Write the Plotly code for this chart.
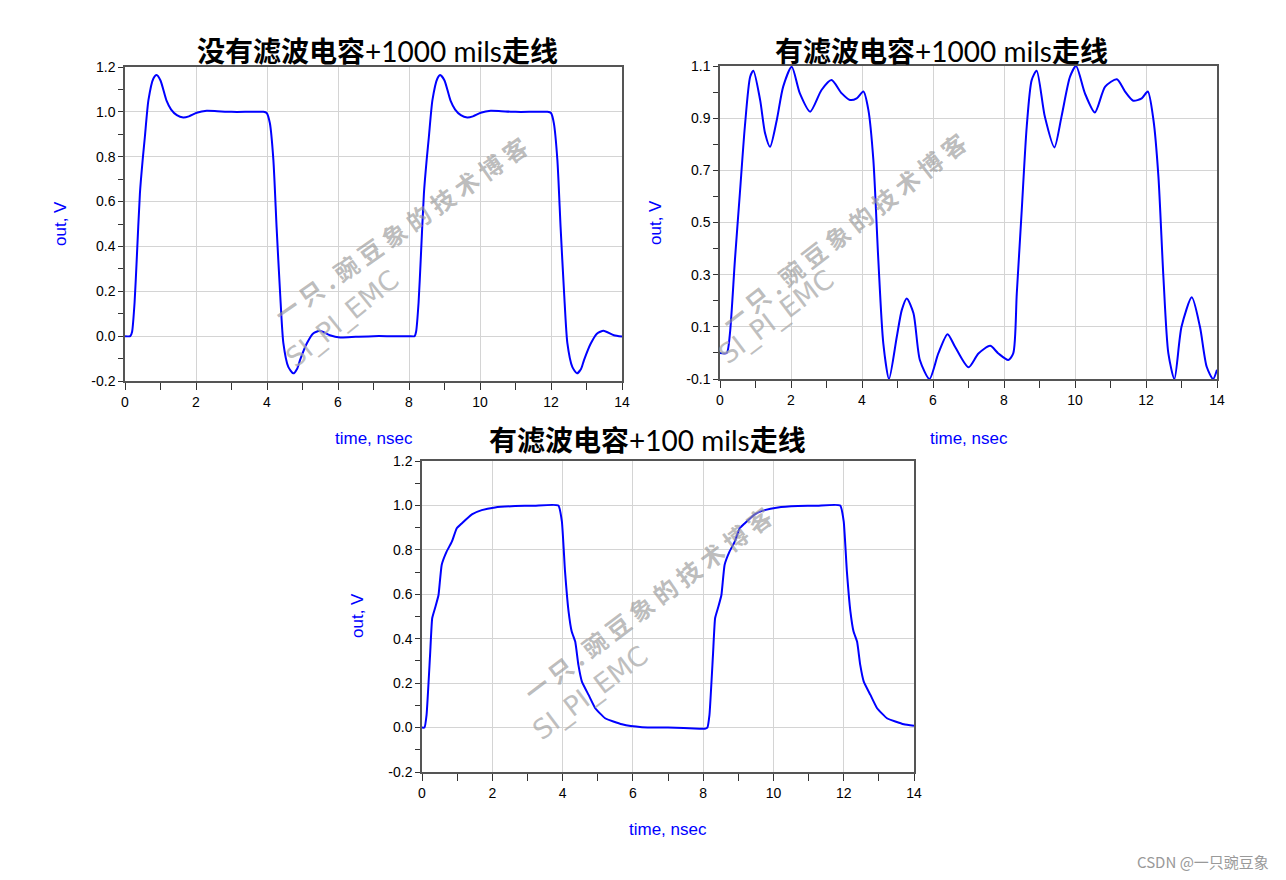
import plotly.graph_objects as go

W, H = 1286, 880
OFF = 8  # page body margin compensation

# ---------------- data ----------------
t1 = [0, 0.15, 0.2, 0.27, 0.33, 0.42, 0.5, 0.56, 0.66, 0.8, 0.89, 1.0, 1.17, 1.3, 1.46, 1.64, 1.8, 2.02, 2.3, 2.6,
      3.0, 3.5, 3.9, 3.99, 4.08, 4.18, 4.27, 4.37, 4.46, 4.6, 4.74, 4.85, 4.93, 5.12, 5.3, 5.49, 5.77, 6.06, 6.5, 7.0,
      7.5, 8.0,
      8.16, 8.2, 8.27, 8.33, 8.42, 8.5, 8.56, 8.66, 8.8, 8.88, 9.0, 9.17, 9.3, 9.46, 9.64, 9.8, 10.02, 10.3, 10.6,
      11.0, 11.5, 11.9, 12.0, 12.08, 12.18, 12.27, 12.37, 12.46, 12.6, 12.73, 12.85, 12.93, 13.12, 13.3, 13.48,
      13.77, 14.0]
v1 = [0, 0, 0.02, 0.15, 0.34, 0.636, 0.79, 0.889, 1.052, 1.149, 1.164, 1.14, 1.05, 1.01, 0.985, 0.975, 0.98, 0.996,
      1.005, 1.003, 1.0, 1.0, 1.0, 0.995, 0.95, 0.785, 0.487, 0.19, -0.03, -0.137, -0.166, -0.145, -0.107, -0.033,
      0.012, 0.024, 0.004, -0.006, -0.003, 0.0, 0.0, 0.0,
      0.0, 0.02, 0.15, 0.34, 0.636, 0.79, 0.889, 1.052, 1.149, 1.164, 1.14, 1.05, 1.01, 0.985, 0.975, 0.98, 0.996,
      1.005, 1.003, 1.0, 1.0, 1.0, 0.995, 0.95, 0.785, 0.487, 0.19, -0.03, -0.137, -0.166, -0.145, -0.107, -0.033,
      0.012, 0.024, 0.004, -0.002]

t2 = [0, 0.19, 0.28, 0.42, 0.56, 0.70, 0.85, 0.94, 1.13, 1.27, 1.41, 1.60, 1.78, 2.02, 2.25, 2.54, 2.86, 3.14, 3.43,
      3.66, 3.85, 4.04, 4.18, 4.32, 4.46, 4.60, 4.76, 4.98, 5.12, 5.26, 5.45, 5.63, 5.90, 6.15, 6.41, 6.62, 7.0, 7.28,
      7.61, 7.84, 8.12, 8.26, 8.36, 8.50, 8.64, 8.78, 8.92, 9.15, 9.42, 9.62, 9.86, 10.03, 10.28, 10.56, 10.85,
      11.18, 11.41, 11.64, 11.88, 12.05, 12.21, 12.35, 12.49, 12.63, 12.80, 13.0, 13.29, 13.52, 13.71, 13.89, 14.0]
v2 = [0.0, 0.0, 0.075, 0.356, 0.612, 0.867, 1.059, 1.082, 0.97, 0.842, 0.79, 0.893, 1.021, 1.097, 0.995, 0.925,
      1.008, 1.046, 0.995, 0.97, 0.976, 1.002, 0.931, 0.74, 0.356, 0.037, -0.1, 0.062, 0.164, 0.209, 0.152, -0.027,
      -0.1, -0.002, 0.072, 0.024, -0.055, -0.002, 0.027, -0.002, -0.027, -0.002, 0.228, 0.548, 0.867, 1.046, 1.082,
      0.906, 0.788, 0.906, 1.059, 1.1, 0.995, 0.922, 1.021, 1.049, 1.002, 0.967, 0.976, 1.002, 0.893, 0.676, 0.292,
      -0.002, -0.1, 0.1, 0.213, 0.1, -0.053, -0.1, -0.065]

t3 = [0, 0.07, 0.13, 0.23, 0.29, 0.37, 0.47, 0.56, 0.70, 0.85, 0.99, 1.13, 1.42, 1.70, 2.08, 2.65, 3.2, 3.88, 3.98,
      4.07, 4.17, 4.26, 4.36, 4.45, 4.55, 4.74, 4.93, 5.21, 5.69, 6.26, 7.0, 7.9, 8.05,
      8.12, 8.18, 8.28, 8.34, 8.42, 8.52, 8.61, 8.75, 8.9, 9.04, 9.18, 9.47, 9.75, 10.13, 10.7, 11.25, 11.9, 12.0,
      12.09, 12.19, 12.28, 12.38, 12.47, 12.57, 12.76, 12.95, 13.23, 13.71, 14.0]
v3 = [0, 0, 0.057, 0.327, 0.492, 0.537, 0.597, 0.732, 0.792, 0.837, 0.897, 0.919, 0.96, 0.979, 0.991, 0.997, 0.999,
      1.0, 0.928, 0.703, 0.523, 0.432, 0.387, 0.282, 0.207, 0.147, 0.087, 0.042, 0.015, 0.002, 0.0, -0.005, -0.005,
      0.0, 0.057, 0.327, 0.492, 0.537, 0.597, 0.732, 0.792, 0.837, 0.897, 0.919, 0.96, 0.979, 0.991, 0.997, 0.999,
      1.0, 0.928, 0.703, 0.523, 0.432, 0.387, 0.282, 0.207, 0.147, 0.087, 0.042, 0.015, 0.008]

titles = [("没有滤波电容", "+1000 mils", "走线"),
          ("有滤波电容", "+1000 mils", "走线"),
          ("有滤波电容", "+100 mils", "走线")]
x_label = "time, nsec"
y_label = "out, V"

x_ticks = [0, 2, 4, 6, 8, 10, 12, 14]
x_ticktext = ["0", "2", "4", "6", "8", "10", "12", "14"]
x_minor = [1, 3, 5, 7, 9, 11, 13]

y_ticks_a = [-0.2, 0.0, 0.2, 0.4, 0.6, 0.8, 1.0, 1.2]
y_text_a = ["-0.2", "0.0", "0.2", "0.4", "0.6", "0.8", "1.0", "1.2"]
y_minor_a = [-0.1, 0.1, 0.3, 0.5, 0.7, 0.9, 1.1]

y_ticks_b = [-0.1, 0.1, 0.3, 0.5, 0.7, 0.9, 1.1]
y_text_b = ["-0.1", "0.1", "0.3", "0.5", "0.7", "0.9", "1.1"]
y_minor_b = [0.0, 0.2, 0.4, 0.6, 0.8, 1.0]

watermark_cn = "一 只 . 豌 豆 象 的 技 术 博 客"
watermark_en = "SI_PI_EMC"
credit = "CSDN @一只豌豆象"

# ---------------- figure ----------------
def px(x):
    return (x - OFF) / W

def py(y):
    return 1 - (y - OFF) / H

fig = go.Figure()
blue = "#0000ff"
line_style = dict(color=blue, width=2)

fig.add_trace(go.Scatter(x=t1, y=v1, mode="lines", line=dict(**line_style, shape="spline", smoothing=0.6),
                         xaxis="x", yaxis="y", showlegend=False))
fig.add_trace(go.Scatter(x=t2, y=v2, mode="lines", line=dict(**line_style, shape="spline", smoothing=0.7),
                         xaxis="x2", yaxis="y2", showlegend=False))
fig.add_trace(go.Scatter(x=t3, y=v3, mode="lines", line=dict(**line_style, shape="spline", smoothing=0.4),
                         xaxis="x3", yaxis="y3", showlegend=False))

tickfont = dict(family="Liberation Sans, Arial", size=14, color="black")

def xax(domain, anchor):
    return dict(domain=domain, anchor=anchor, range=[0, 14], tickmode="array", tickvals=x_ticks,
                ticktext=x_ticktext, ticks="outside", ticklen=7, tickwidth=1, tickcolor="#333",
                showline=True, linecolor="#555", linewidth=1.5, mirror=True,
                showgrid=True, gridcolor="#d4d4d4", gridwidth=1, zeroline=False,
                tickfont=tickfont, fixedrange=True,
                minor=dict(tickvals=x_minor, ticks="outside", ticklen=7, tickcolor="#333", showgrid=False))

def yax(domain, anchor, rng, tv, tt, mv):
    return dict(domain=domain, anchor=anchor, range=rng, tickmode="array", tickvals=tv, ticktext=tt,
                ticks="outside", ticklen=5, tickwidth=1, tickcolor="#333",
                showline=True, linecolor="#555", linewidth=1.5, mirror=True,
                showgrid=True, gridcolor="#d4d4d4", gridwidth=1, zeroline=False,
                tickfont=tickfont, fixedrange=True,
                minor=dict(tickvals=mv, ticks="outside", ticklen=5, tickcolor="#333", showgrid=False))

fig.update_layout(
    width=W, height=H,
    margin=dict(l=0, r=0, t=0, b=0, pad=0, autoexpand=False),
    paper_bgcolor="white", plot_bgcolor="white",
    xaxis=xax([px(125), px(622)], "y"),
    yaxis=yax([py(381), py(67)], "x", [-0.2, 1.2], y_ticks_a, y_text_a, y_minor_a),
    xaxis2=xax([px(720), px(1217)], "y2"),
    yaxis2=yax([py(379), py(66)], "x2", [-0.1, 1.1], y_ticks_b, y_text_b, y_minor_b),
    xaxis3=xax([px(422), px(914)], "y3"),
    yaxis3=yax([py(772), py(461)], "x3", [-0.2, 1.2], y_ticks_a, y_text_a, y_minor_a),
)

ann = []
for (cx, cy), (a, b, c) in zip([(377, 50), (941, 50), (647, 439)], titles):
    txt = f"<b>{a}</b><span style='font-family:Lato'>{b}</span><b>{c}</b>"
    ann.append(dict(x=px(cx), y=py(cy), xref="paper", yref="paper", text=txt, showarrow=False,
                    font=dict(family="Noto Sans CJK SC", size=28, color="black"),
                    xanchor="center", yanchor="middle"))

lab_font = dict(family="Liberation Sans, Arial", size=17, color=blue)
for cx, cy in [(374, 438), (969, 438), (668, 829)]:
    ann.append(dict(x=px(cx), y=py(cy), xref="paper", yref="paper", text=x_label, showarrow=False,
                    font=lab_font, xanchor="center", yanchor="middle"))
for cx, cy in [(60, 224), (655, 223), (357, 616)]:
    ann.append(dict(x=px(cx), y=py(cy), xref="paper", yref="paper", text=y_label, showarrow=False,
                    font=lab_font, textangle=-90, xanchor="center", yanchor="middle"))

wm_font = dict(family="Noto Sans CJK SC", size=24, color="rgba(150,150,150,0.65)", weight="bold")
for (cx, cy), ang in zip([(400, 229), (843, 231), (647, 603)], [-35, -38, -37]):
    ann.append(dict(x=px(cx), y=py(cy), xref="paper", yref="paper", text=watermark_cn, showarrow=False,
                    font=wm_font, textangle=ang, xanchor="center", yanchor="middle"))
wm2_font = dict(family="DejaVu Sans, Liberation Sans", size=27, color="rgba(170,170,170,0.75)")
for (cx, cy), ang in zip([(342, 318), (776, 316), (590, 692)], [-39, -37, -37]):
    ann.append(dict(x=px(cx), y=py(cy), xref="paper", yref="paper", text=watermark_en, showarrow=False,
                    font=wm2_font, textangle=ang, xanchor="center", yanchor="middle"))

ann.append(dict(x=px(1271), y=py(861), xref="paper", yref="paper", text=credit, showarrow=False,
                font=dict(family="Noto Sans CJK SC", size=15, color="#999999"),
                xanchor="right", yanchor="middle"))

fig.update_layout(annotations=ann)
fig.write_html("out.html")
